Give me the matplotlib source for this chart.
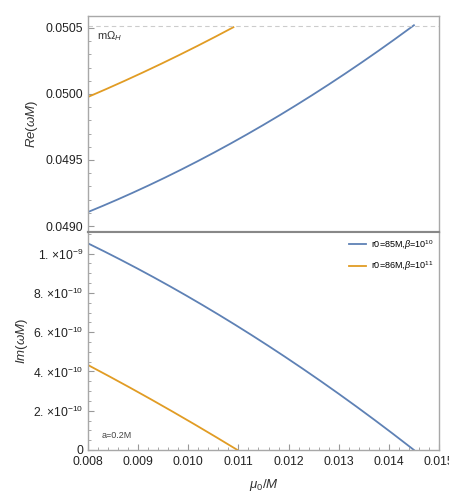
import numpy as np
import matplotlib
matplotlib.use('Agg')
import matplotlib.pyplot as plt
from matplotlib.ticker import MultipleLocator, FixedLocator

plt.rcParams['font.family'] = ['Liberation Sans', 'DejaVu Sans']
plt.rcParams['mathtext.fontset'] = 'custom'
plt.rcParams['mathtext.rm'] = 'Liberation Sans'
plt.rcParams['mathtext.it'] = 'Liberation Sans:italic'

# 데이터
mu_blue = [0.008, 0.009, 0.010, 0.011, 0.012, 0.013, 0.014, 0.0145]
re_blue = [0.049106, 0.049271, 0.049454, 0.049657, 0.049880, 0.050121, 0.050382, 0.050520]
mu_orange = [0.008, 0.0085, 0.009, 0.0095, 0.010, 0.0105, 0.0109]
re_orange = [0.049977, 0.050060, 0.050146, 0.050235, 0.050329, 0.050425, 0.050505]

mu_im_blue = [0.008, 0.0085, 0.009, 0.0095, 0.010, 0.0105, 0.011, 0.0115,
              0.012, 0.0125, 0.013, 0.0135, 0.014, 0.0145]
im_blue = [1.052, 0.9884, 0.9219, 0.8526, 0.7803, 0.7052, 0.6271, 0.5462,
           0.4624, 0.3757, 0.2861, 0.1936, 0.0983, 0.0]
mu_im_orange = [0.008, 0.0085, 0.009, 0.0095, 0.010, 0.0105, 0.01098]
im_orange = [0.4326, 0.3644, 0.2945, 0.2227, 0.1492, 0.0739, 0.0]

m_omega_h = 0.050518
labels = [r'r0=85M,$\beta$=10$^{10}$', r'r0=86M,$\beta$=10$^{11}$']
im_ticks = [0, 2e-10, 4e-10, 6e-10, 8e-10, 1e-9]
im_ticklabels = ['0', r'2. $\times$10$^{-10}$', r'4. $\times$10$^{-10}$',
                 r'6. $\times$10$^{-10}$', r'8. $\times$10$^{-10}$', r'1. $\times$10$^{-9}$']

blue = '#5E81B5'
orange = '#E19C24'
frame = '#A8A8A8'

def smooth(x, y, n=200):
    # 3차 다항식으로 부드럽게
    c = np.polyfit(x, y, 3)
    xs = np.linspace(x[0], x[-1], n)
    return xs, np.polyval(c, xs)

fig = plt.figure(figsize=(4.49, 4.92), dpi=100)
ax1 = fig.add_axes([0.196, 0.5285, 0.7817, 0.439])
ax2 = fig.add_axes([0.196, 0.0854, 0.7817, 0.4431])

xs, ys = smooth(mu_blue, re_blue)
ax1.plot(xs, ys, color=blue, lw=1.3)
xs, ys = smooth(mu_orange, re_orange)
ax1.plot(xs, ys, color=orange, lw=1.3)
ax1.axhline(m_omega_h, color='#CCCCCC', lw=0.8, ls=(0, (4, 3)))
ax1.text(0.00818, 0.05044, r'm$\Omega_H$', fontsize=8, color='#333333', va='center')

ax1.set_xlim(0.008, 0.015)
ax1.set_ylim(0.048955, 0.05059)
ax1.yaxis.set_major_locator(FixedLocator([0.0490, 0.0495, 0.0500, 0.0505]))
ax1.yaxis.set_minor_locator(MultipleLocator(0.0001))
ax1.set_yticklabels(['0.0490', '0.0495', '0.0500', '0.0505'])
ax1.set_xticks([])
ax1.set_ylabel(r'$Re(\omega M)$', fontsize=9.5, color='#333333', labelpad=4)

xs, ys = smooth(mu_im_blue, im_blue)
ax2.plot(xs, ys * 1e-9, color=blue, lw=1.3, label=labels[0])
xs, ys = smooth(mu_im_orange, im_orange)
ax2.plot(xs, ys * 1e-9, color=orange, lw=1.3, label=labels[1])
ax2.text(0.00828, 0.6e-10, 'a=0.2M', fontsize=6.5, color='#444444')

ax2.set_xlim(0.008, 0.015)
ax2.set_ylim(0, 1.11e-9)
ax2.set_yticks(im_ticks)
ax2.set_yticklabels(im_ticklabels)
ax2.yaxis.set_minor_locator(MultipleLocator(5e-11))
ax2.xaxis.set_major_locator(MultipleLocator(0.001))
ax2.xaxis.set_minor_locator(MultipleLocator(0.0002))
ax2.set_xticklabels(['%.3f' % v for v in ax2.get_xticks()])
ax2.set_xlim(0.008, 0.015)
ax2.set_ylabel(r'$Im(\omega M)$', fontsize=9.5, color='#333333', labelpad=2)
ax2.set_xlabel(r'$\mu_0/M$', fontsize=9.5, color='#333333', labelpad=6)
ax2.legend(loc='upper right', frameon=False, fontsize=6.5, handlelength=1.9,
           handletextpad=0.5, borderaxespad=0.25, labelspacing=0.9)

for ax in (ax1, ax2):
    for s in ax.spines.values():
        s.set_color(frame)
        s.set_linewidth(1.0)
    ax.tick_params(which='both', direction='in', color='#999999', labelsize=8.7,
                   labelcolor='#222222', top=False, right=False)
    ax.tick_params(which='major', length=4)
    ax.tick_params(which='minor', length=2)
ax2.tick_params(axis='x', which='major', pad=4.5)
ax1.tick_params(axis='x', which='both', bottom=False)
ax1.spines['bottom'].set_color('#888888')
ax1.spines['bottom'].set_linewidth(1.5)
ax2.spines['top'].set_color('#888888')
ax2.spines['top'].set_linewidth(1.5)

fig.savefig('out.png', dpi=100)
